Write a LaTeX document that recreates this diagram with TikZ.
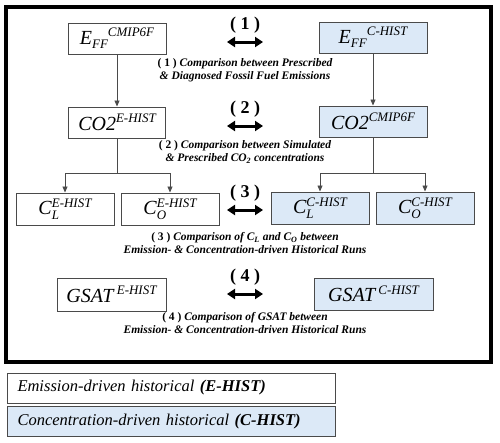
\documentclass[tikz,border=0pt]{standalone}
\usepackage{fontspec}
\setmainfont{Liberation Serif}
\usetikzlibrary{arrows.meta}
\definecolor{boxblue}{HTML}{DCE9F7}
\definecolor{boxline}{HTML}{4A4A4A}
\newcommand{\bsize}{\fontsize{20}{20}\selectfont}
\newcommand{\ssize}{\fontsize{13}{13}\selectfont}
\newcommand{\supx}[1]{\raisebox{7.5pt}{\ssize #1}}
\newcommand{\subx}[1]{\raisebox{-4.5pt}{\ssize #1}}
\newcommand{\stackx}[2]{\makebox[0pt][l]{\subx{#1}}\supx{#2}}
\begin{document}
\begin{tikzpicture}[x=1pt,y=-1pt,
  runbox/.style={draw=boxline,line width=1pt,inner sep=0pt,minimum height=31pt,font=\bsize\itshape},
  ebox/.style={runbox,fill=white},
  cbox/.style={runbox,fill=boxblue},
  conn/.style={draw=boxline,line width=0.8pt},
  arr/.style={conn,-{Triangle[length=6pt,width=5pt]}},
  dbl/.style={line width=3pt,{Triangle[length=8pt,width=10pt]}-{Triangle[length=8pt,width=10pt]}},
  numlab/.style={font=\fontsize{18}{18}\selectfont\bfseries,inner sep=0pt},
  caption/.style={align=center,inner sep=0pt,font=\fontsize{11.5}{13}\selectfont\bfseries\itshape},
  legbox/.style={draw=boxline,line width=1pt,inner sep=0pt,minimum width=328pt,minimum height=30pt,anchor=west,font=\fontsize{16.5}{16.5}\selectfont\itshape,text width=308pt,align=left}
]
\useasboundingbox (0,0) rectangle (500,442);
\draw[line width=3.5pt] (6,7) rectangle (491,362);

% boxes
\node[ebox,minimum width=98pt] (effL) at (117,38.5) {E\subx{FF}\supx{CMIP6F}};
\node[cbox,minimum width=108pt] (effR) at (373,37.5) {E\subx{FF}\supx{C-HIST}};
\node[ebox,minimum width=97pt] (co2L) at (117,122.5) {CO2\supx{E-HIST}};
\node[cbox,minimum width=108pt] (co2R) at (373,121.5) {CO2\supx{CMIP6F}};
\node[ebox,minimum width=98pt,minimum height=32pt] (clL) at (65,209) {C\stackx{L}{E-HIST}};
\node[ebox,minimum width=98pt,minimum height=32pt] (coL) at (170,209) {C\stackx{O}{E-HIST}};
\node[cbox,minimum width=98pt,minimum height=32pt] (clR) at (320,208) {C\stackx{L}{C-HIST}};
\node[cbox,minimum width=98pt,minimum height=32pt] (coR) at (425,208) {C\stackx{O}{C-HIST}};
\node[ebox,minimum width=109pt,minimum height=33pt] (gL) at (111.5,294.5) {GSAT\,\supx{E-HIST}};
\node[cbox,minimum width=119pt,minimum height=32pt] (gR) at (373.5,294) {GSAT\,\supx{C-HIST}};

% connectors
\draw[arr] (effL) -- (co2L);
\draw[arr] (effR) -- (co2R);
\coordinate (jL) at (117,173);
\coordinate (jR) at (373,173);
\draw[conn] (co2L) -- (jL);
\draw[arr] (jL) -| (clL.north);
\draw[arr] (jL) -| (coL.north);
\draw[conn] (co2R) -- (jR);
\draw[arr] (jR) -| (clR.north);
\draw[arr] (jR) -| (coR.north);

% comparisons
\node[numlab] (n1) at (245,25) {( 1 )};
\coordinate (a1l) at (227,42); \coordinate (a1r) at (263,42);
\draw[dbl] (a1l) -- (a1r);
\node[caption] (c1) at (245,70) {{\upshape( 1 )} Comparison between Prescribed\\ \& Diagnosed Fossil Fuel Emissions};

\node[numlab] (n2) at (245,109) {( 2 )};
\coordinate (a2l) at (227,126); \coordinate (a2r) at (263,126);
\draw[dbl] (a2l) -- (a2r);
\node[caption] (c2) at (245,152) {{\upshape( 2 )} Comparison between Simulated\\ \& Prescribed CO\textsubscript{2} concentrations};

\node[numlab] (n3) at (245,193) {( 3 )};
\coordinate (a3l) at (227,210); \coordinate (a3r) at (263,210);
\draw[dbl] (a3l) -- (a3r);
\node[caption] (c3) at (245,243) {{\upshape( 3 )} Comparison of C\textsubscript{L} and C\textsubscript{O} between\\ Emission- \& Concentration-driven Historical Runs};

\node[numlab] (n4) at (245,277) {( 4 )};
\coordinate (a4l) at (227,294); \coordinate (a4r) at (263,294);
\draw[dbl] (a4l) -- (a4r);
\node[caption] (c4) at (245,323) {{\upshape( 4 )} Comparison of GSAT between\\ Emission- \& Concentration-driven Historical Runs};

% legend
\node[legbox,fill=white] (leg1) at (7,388) {Emission-driven historical \textbf{(E-HIST)}};
\node[legbox,fill=boxblue] (leg2) at (7,421.5) {Concentration-driven historical \textbf{(C-HIST)}};
\end{tikzpicture}
\end{document}
